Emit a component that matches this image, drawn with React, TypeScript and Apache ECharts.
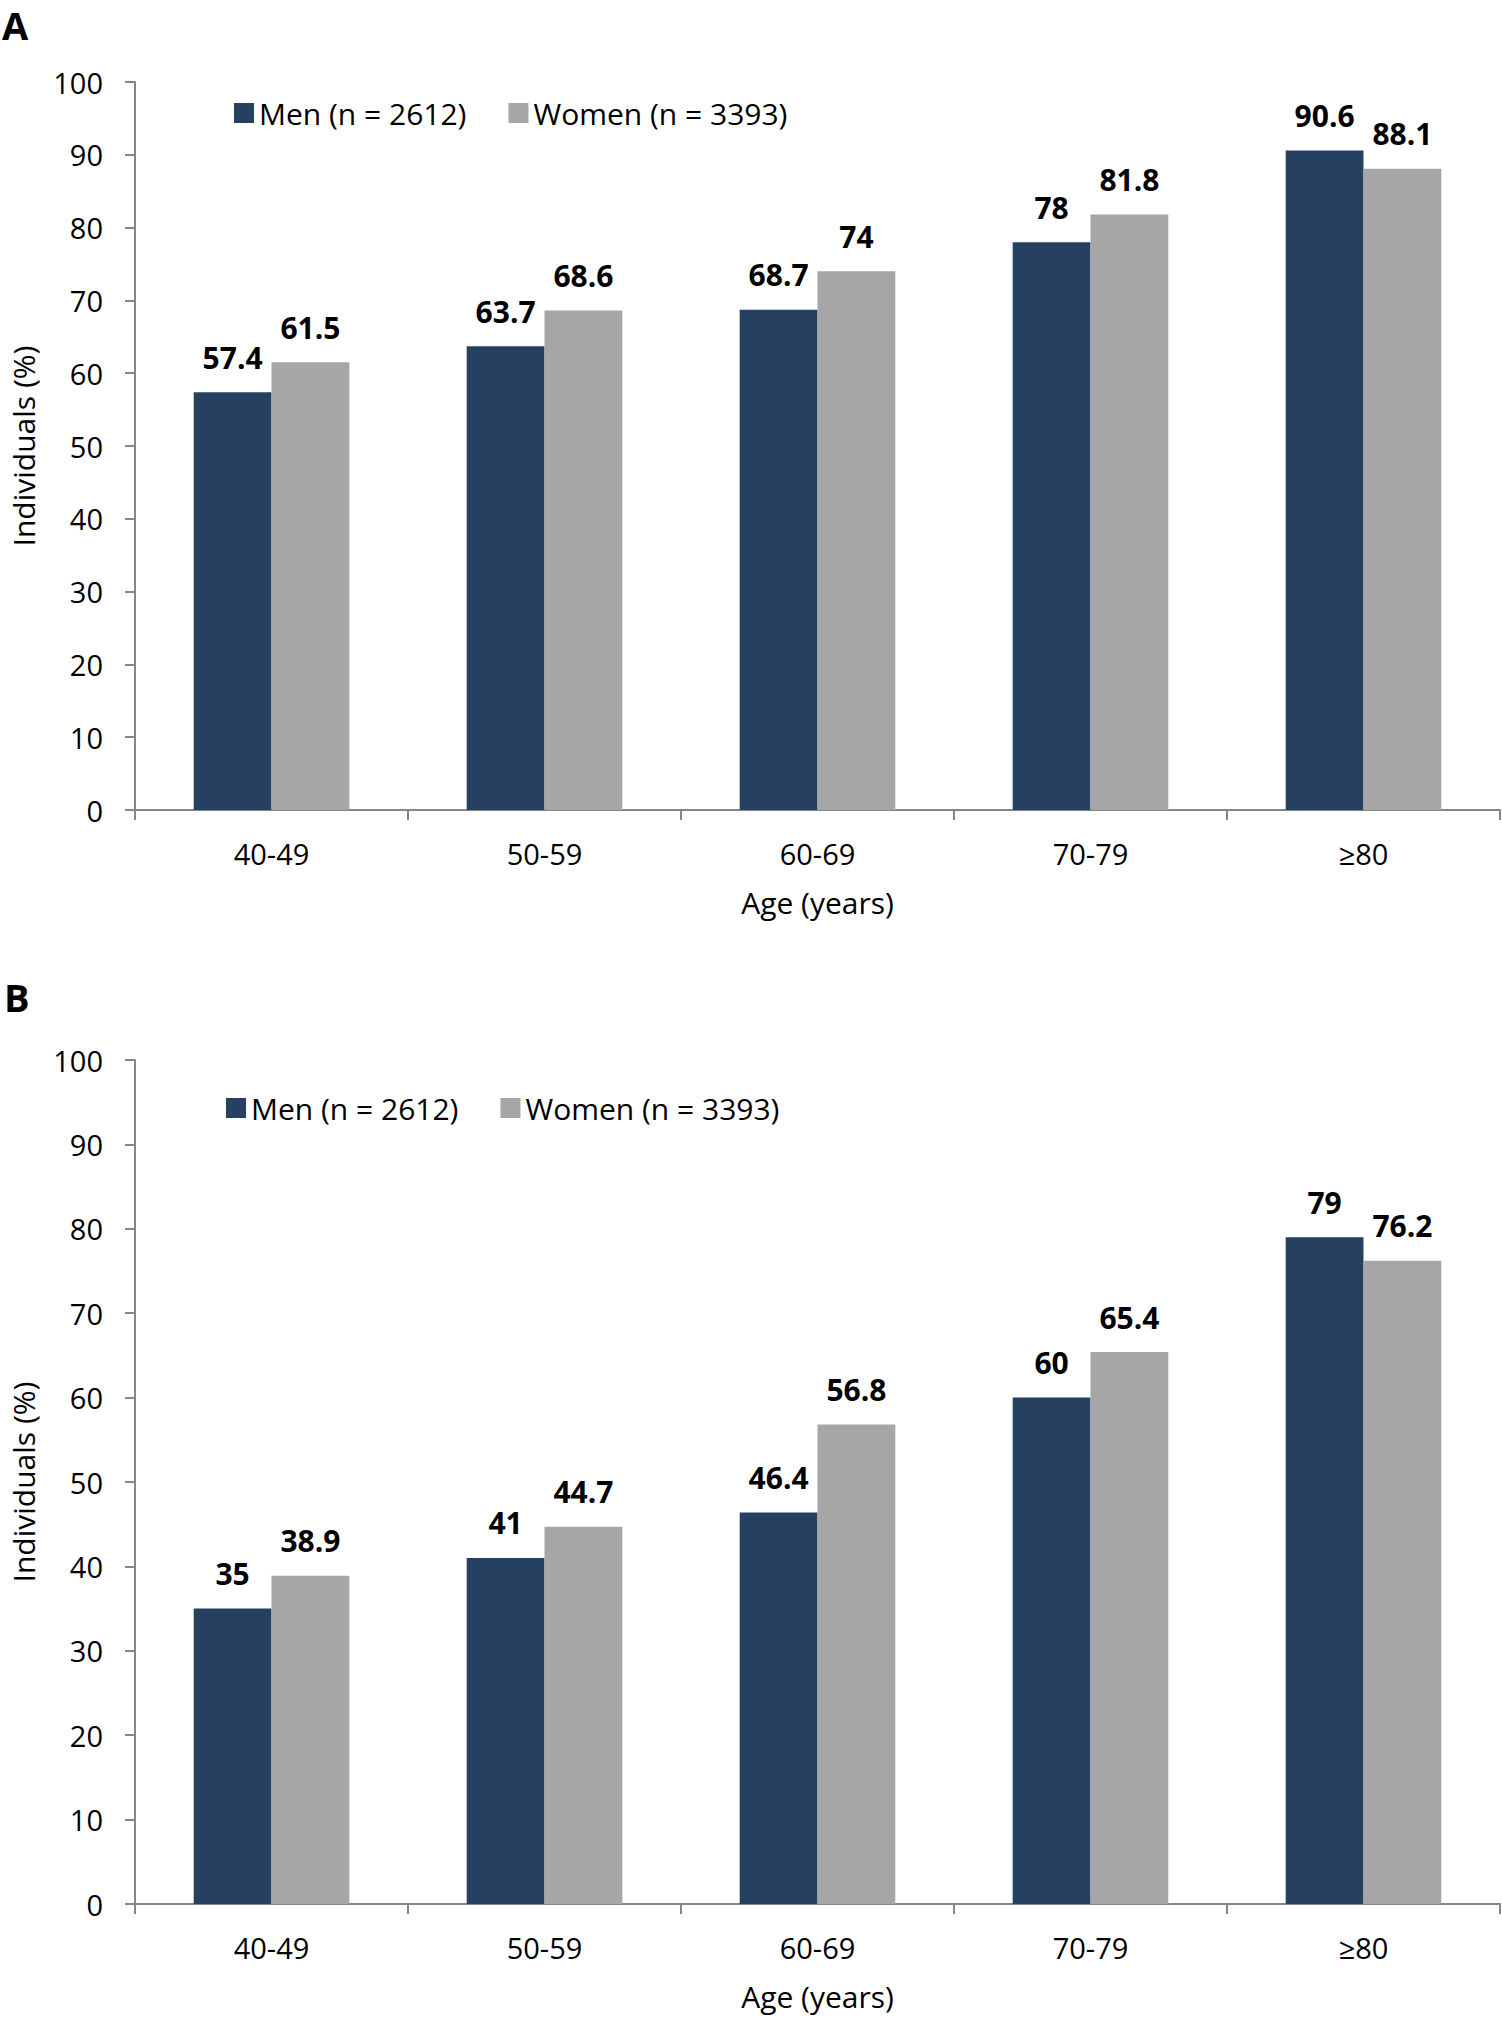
import React, { useEffect, useRef } from "react";
import * as echarts from "echarts";

const categories = ["40-49", "50-59", "60-69", "70-79", "≥80"];
const menA = [57.4, 63.7, 68.7, 78, 90.6];
const womenA = [61.5, 68.6, 74, 81.8, 88.1];
const menB = [35, 41, 46.4, 60, 79];
const womenB = [38.9, 44.7, 56.8, 65.4, 76.2];
const yTicks = { min: 0, max: 100, interval: 10 };
const menName = "Men (n = 2612)";
const womenName = "Women (n = 3393)";

const FONT = "Open Sans";
const MEN_COLOR = "#264061";
const WOMEN_COLOR = "#A6A6A6";
const AXIS_COLOR = "#868686";

export default function App() {
  const ref = useRef<HTMLDivElement>(null);
  useEffect(() => {
    if (!ref.current) return;
    const chart = echarts.init(ref.current, null, { renderer: "svg" });

    const xAxisCommon = (gridIndex: number) => ({
      type: "category" as const,
      gridIndex,
      data: categories,
      boundaryGap: true,
      axisLine: { show: true, lineStyle: { color: AXIS_COLOR, width: 2 } },
      axisTick: { show: true, length: 10, lineStyle: { color: AXIS_COLOR, width: 2 } },
      axisLabel: { color: "#000", fontSize: 29, fontFamily: FONT, margin: 29 },
      name: "Age (years)",
      nameLocation: "middle" as const,
      nameGap: 77,
      nameTextStyle: { color: "#000", fontSize: 30, fontFamily: FONT },
    });
    const yAxisCommon = (gridIndex: number) => ({
      type: "value" as const,
      gridIndex,
      min: yTicks.min,
      max: yTicks.max,
      interval: yTicks.interval,
      axisLine: { show: true, lineStyle: { color: AXIS_COLOR, width: 2 } },
      axisTick: { show: true, length: 10, lineStyle: { color: AXIS_COLOR, width: 2 } },
      splitLine: { show: false },
      axisLabel: { color: "#000", fontSize: 29, fontFamily: FONT, margin: 32 },
      name: "Individuals (%)",
      nameLocation: "middle" as const,
      nameGap: 97,
      nameTextStyle: { color: "#000", fontSize: 30, fontFamily: FONT },
    });
    const label = {
      show: true,
      position: "top" as const,
      distance: 20,
      color: "#000",
      fontSize: 30,
      fontWeight: "bold" as const,
      fontFamily: FONT,
    };
    const bar = (name: string, data: number[], color: string, idx: number) => ({
      type: "bar" as const,
      name,
      data,
      xAxisIndex: idx,
      yAxisIndex: idx,
      barGap: "0%",
      barCategoryGap: "43%",
      itemStyle: { color },
      label,
    });
    const legend = (left: number, top: number) => ({
      left,
      top,
      padding: 0,
      itemWidth: 20,
      itemHeight: 20,
      itemGap: 42,
      icon: "rect",
      data: [menName, womenName],
      textStyle: { color: "#000", fontSize: 30, fontFamily: FONT, lineHeight: 30 },
    });

    chart.setOption({
      animation: false,
      backgroundColor: "#fff",
      textStyle: { fontFamily: FONT },
      graphic: [
        { type: "text", left: 2, top: 6, style: { text: "A", fontSize: 38, fontWeight: "bold", fontFamily: FONT, fill: "#000" } },
        { type: "text", left: 4, top: 978, style: { text: "B", fontSize: 38, fontWeight: "bold", fontFamily: FONT, fill: "#000" } },
      ],
      legend: [legend(234, 98), legend(226, 1093)],
      grid: [
        { left: 135, right: 2, top: 82, height: 728 },
        { left: 135, right: 2, top: 1060, height: 844 },
      ],
      xAxis: [xAxisCommon(0), xAxisCommon(1)],
      yAxis: [yAxisCommon(0), yAxisCommon(1)],
      series: [
        bar(menName, menA, MEN_COLOR, 0),
        bar(womenName, womenA, WOMEN_COLOR, 0),
        bar(menName, menB, MEN_COLOR, 1),
        bar(womenName, womenB, WOMEN_COLOR, 1),
      ],
    });
    return () => chart.dispose();
  }, []);
  return (
    <div
      ref={ref}
      style={{ position: "absolute", left: 0, top: 0, width: 1502, height: 2020 }}
    />
  );
}
